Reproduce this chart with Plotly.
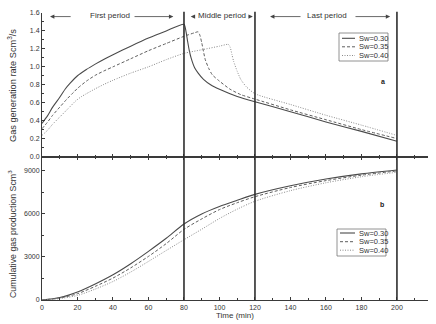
import plotly.graph_objects as go

# ---- gas generation rate (Scm^3/s) vs time (min) ----
t_rate_030 = [0, 3, 6, 10, 13, 16, 20, 25, 30, 35, 40, 50, 60, 70, 80, 81, 82, 83, 84, 86, 88, 91, 95, 100, 110, 120, 140, 160, 180, 200]
rate_030 = [0.37, 0.45, 0.55, 0.66, 0.75, 0.82, 0.90, 0.97, 1.03, 1.085, 1.135, 1.23, 1.32, 1.40, 1.475, 1.41, 1.29, 1.18, 1.10, 0.99, 0.93, 0.86, 0.80, 0.75, 0.67, 0.61, 0.50, 0.385, 0.28, 0.17]

t_rate_035 = [0, 3, 6, 10, 14, 18, 20, 25, 30, 35, 40, 50, 60, 70, 80, 86, 88, 89, 90, 91, 92, 94, 96, 100, 106, 112, 120, 140, 160, 180, 200]
rate_035 = [0.31, 0.38, 0.46, 0.55, 0.64, 0.72, 0.76, 0.84, 0.905, 0.955, 1.00, 1.09, 1.18, 1.26, 1.34, 1.38, 1.39, 1.35, 1.27, 1.17, 1.08, 0.98, 0.91, 0.84, 0.75, 0.69, 0.64, 0.52, 0.41, 0.30, 0.20]

t_rate_040 = [0, 3, 6, 10, 15, 19, 22, 25, 30, 35, 40, 50, 60, 70, 80, 90, 100, 105, 106, 107, 108, 110, 112, 115, 120, 140, 160, 180, 200]
rate_040 = [0.235, 0.29, 0.36, 0.44, 0.54, 0.62, 0.665, 0.70, 0.755, 0.805, 0.85, 0.93, 1.00, 1.08, 1.15, 1.19, 1.23, 1.25, 1.22, 1.14, 1.06, 0.95, 0.86, 0.78, 0.70, 0.58, 0.46, 0.35, 0.235]

# ---- cumulative gas production (Scm^3) vs time (min) ----
t_cum = [0, 10, 20, 30, 40, 50, 60, 70, 80, 90, 100, 110, 120, 140, 160, 180, 200]
cum_030 = [0, 170, 560, 1120, 1760, 2530, 3390, 4300, 5300, 6000, 6520, 6950, 7360, 7960, 8430, 8790, 9060]
cum_035 = [0, 140, 440, 950, 1530, 2240, 3040, 3930, 4920, 5650, 6300, 6780, 7200, 7840, 8320, 8700, 8990]
cum_040 = [0, 100, 320, 760, 1290, 1950, 2690, 3450, 4200, 4930, 5680, 6330, 6880, 7620, 8170, 8590, 8900]

series_names = ["Sw=0.30", "Sw=0.35", "Sw=0.40"]
period_bounds = [80, 120, 200]
period_labels = ["First period", "Middle period", "Last period"]

line_styles = [
    dict(color="#4a4a4a", width=1.1, dash="solid"),
    dict(color="#5e5e5e", width=1.0, dash="3px,2px"),
    dict(color="#8a8a8a", width=1.0, dash="1px,1.5px"),
]

FONT = "Liberation Sans, Arial, sans-serif"
AXC = "#3a3a3a"

fig = go.Figure()

rate_sets = [(t_rate_030, rate_030), (t_rate_035, rate_035), (t_rate_040, rate_040)]
cum_sets = [cum_030, cum_035, cum_040]
for name, (tt, rr), cc, st in zip(series_names, rate_sets, cum_sets, line_styles):
    fig.add_trace(go.Scatter(x=tt, y=rr, mode="lines", name=name,
                             line=dict(**st, shape="spline", smoothing=0.6),
                             xaxis="x2", yaxis="y2", showlegend=False))
    fig.add_trace(go.Scatter(x=t_cum, y=cc, mode="lines", name=name,
                             line=dict(**st, shape="spline", smoothing=0.8),
                             xaxis="x", yaxis="y", showlegend=False))

XMAX = 217.5
tick_font = dict(family=FONT, size=7, color="#333")
common_x = dict(range=[0, XMAX], showgrid=False, zeroline=False, showline=True,
                linecolor=AXC, linewidth=1, ticks="inside", ticklen=3, tickcolor=AXC,
                dtick=20, tick0=0,
                minor=dict(ticks="inside", ticklen=2, dtick=10, tickcolor=AXC))

fig.update_layout(
    width=436, height=324,
    margin=dict(l=42, r=8, t=13, b=24),
    paper_bgcolor="white", plot_bgcolor="white",
    font=dict(family=FONT, size=7, color="#333"),
    xaxis=dict(**common_x, anchor="y", mirror="ticks", tickfont=tick_font,
               ticklabelstandoff=1),
    xaxis2=dict(**common_x, anchor="y2", matches="x", showticklabels=False),
    yaxis=dict(domain=[0, 0.5], range=[0, 10000], showgrid=False, zeroline=False,
               showline=True, linecolor=AXC, linewidth=1, ticks="inside", ticklen=3,
               tickcolor=AXC, tickvals=[0, 3000, 6000, 9000], tickfont=tick_font,
               minor=dict(ticks="inside", ticklen=2, dtick=1500, tickcolor=AXC)),
    yaxis2=dict(domain=[0.5, 1], range=[0, 1.6], showgrid=False, zeroline=False,
                showline=True, linecolor=AXC, linewidth=1, ticks="inside", ticklen=3,
                tickcolor=AXC, dtick=0.2, tickformat=".1f", tickfont=tick_font,
                minor=dict(ticks="inside", ticklen=2, dtick=0.1, tickcolor=AXC)),
)

shapes = []
annotations = []

# period boundaries spanning both panels
for xb in period_bounds:
    shapes.append(dict(type="line", xref="x", yref="paper", x0=xb, x1=xb, y0=0, y1=1.004,
                       line=dict(color="#2e2e2e", width=1.6)))

# period labels with arrows (top panel coordinates)
ARROW_Y = 1.56
period_layout = [
    # (label centre, left head, left tail, right tail, right head)
    (38.5, 4.5, 17.0, 51.3, 74.0),
    (101.2, 83.8, 87.0, 115.7, 118.8),
    (160.6, 128.5, 146.5, 175.8, 196.2),
]
for label_text, (xc, lh, lt, rt, rh) in zip(period_labels, period_layout):
    annotations.append(dict(x=xc, y=ARROW_Y, xref="x2", yref="y2", text=label_text,
                            showarrow=False, xanchor="center", yanchor="middle",
                            font=dict(family=FONT, size=8, color="#333"), yshift=1))
    for head, tail in ((lh, lt), (rh, rt)):
        annotations.append(dict(x=head, y=ARROW_Y, ax=tail, ay=ARROW_Y,
                                xref="x2", yref="y2", axref="x2", ayref="y2",
                                text="", showarrow=True, arrowhead=2, arrowsize=1.1,
                                arrowwidth=0.8, arrowcolor="#444"))


# legend boxes drawn in paper coordinates
def px_x(p):
    return (p - 42) / 386.0


def px_y(p):
    return (300 - p) / 287.0


def add_legend(box, rows, line_x, text_x):
    x0, x1, y0, y1 = box
    shapes.append(dict(type="rect", xref="paper", yref="paper",
                       x0=px_x(x0), x1=px_x(x1), y0=px_y(y1), y1=px_y(y0),
                       line=dict(color="#777", width=0.8), fillcolor="white"))
    for name, st, ry in zip(series_names, line_styles, rows):
        shapes.append(dict(type="line", xref="paper", yref="paper",
                           x0=px_x(line_x[0]), x1=px_x(line_x[1]), y0=px_y(ry), y1=px_y(ry),
                           line=st))
        annotations.append(dict(x=px_x(text_x), y=px_y(ry), xref="paper", yref="paper",
                                text=name, showarrow=False, xanchor="left", yanchor="middle",
                                font=dict(family=FONT, size=7.5, color="#333")))


add_legend((339, 388, 33, 61), (38.3, 46.8, 55.5), (342, 355), 356.5)
add_legend((337, 386, 229, 256), (233, 241.7, 250.2), (340, 355), 356.5)


def label(x, y, text, size=8, angle=0, color="#333"):
    annotations.append(dict(x=px_x(x), y=px_y(y), xref="paper", yref="paper", text=text,
                            textangle=angle, showarrow=False, xanchor="center",
                            yanchor="middle", font=dict(family=FONT, size=size, color=color)))


# panel letters
label(383, 81, "<b>a</b>", size=7, color="#222")
label(382, 204, "<b>b</b>", size=7, color="#222")

# axis titles
label(12, 86, "Gas generation rate Scm<sup>3</sup>/s", size=9.2, angle=-90)
label(12, 234, "Cumulative gas production Scm<sup>3</sup>", size=8.8, angle=-90)
label(235, 315, "Time (min)")

fig.update_layout(shapes=shapes, annotations=annotations)

fig.write_html("out.html")
